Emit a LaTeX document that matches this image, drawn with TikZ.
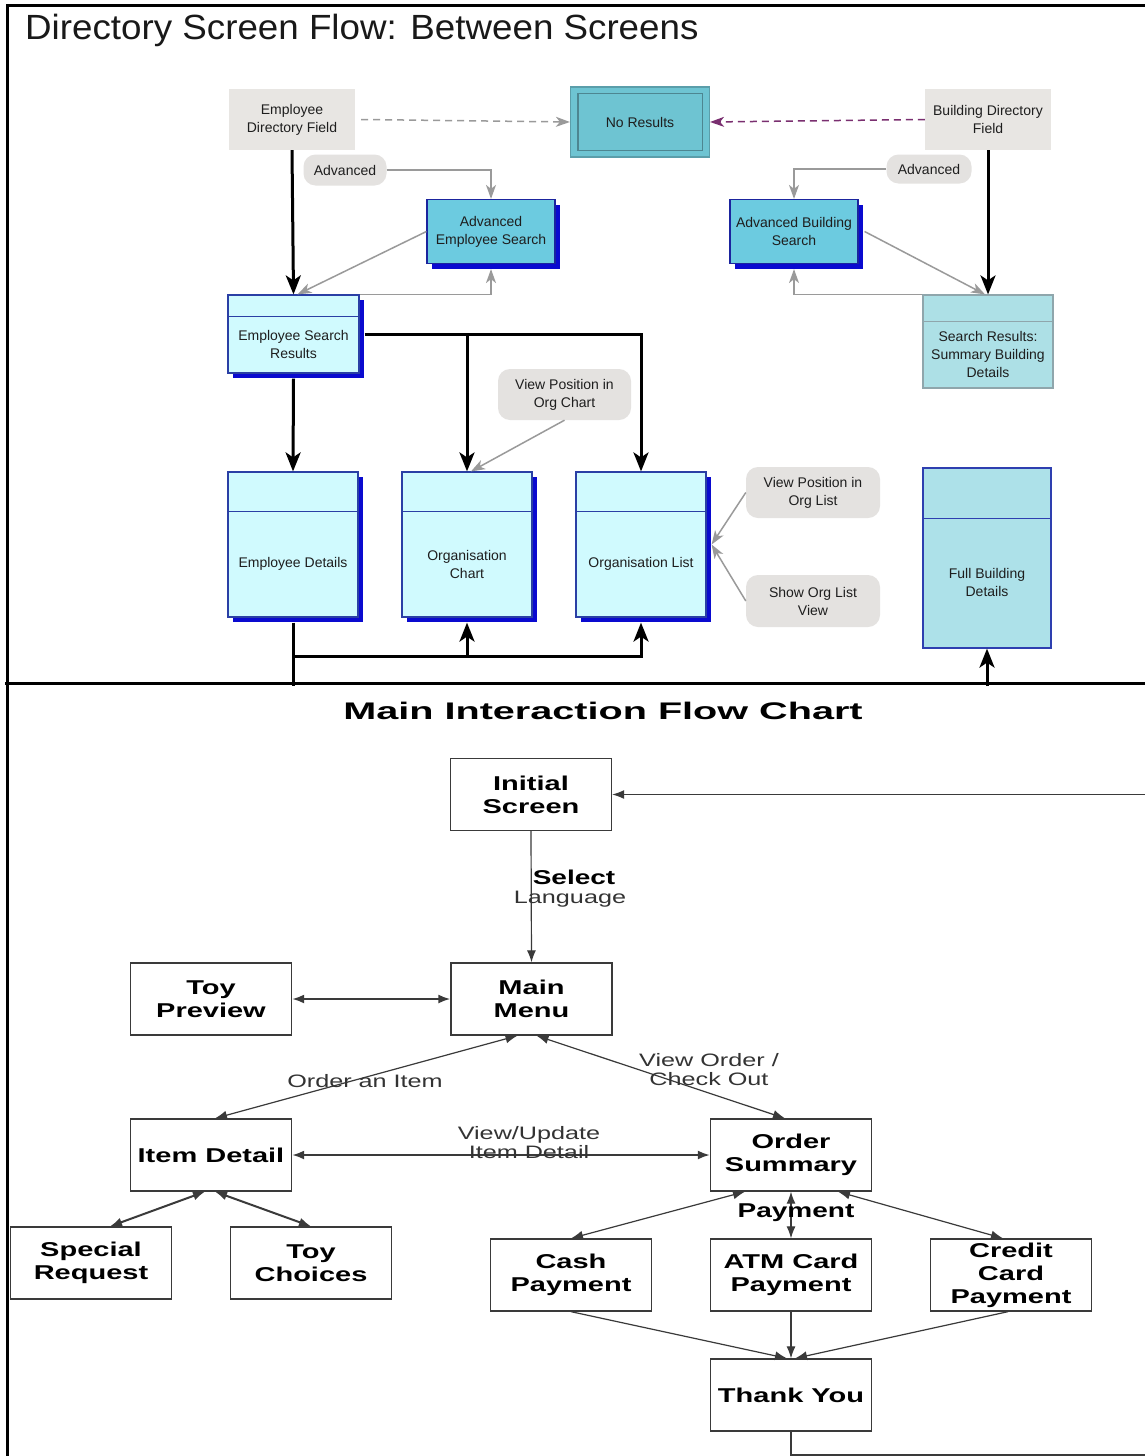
\documentclass[tikz,border=0pt]{standalone}
\usepackage{fontspec}
\setmainfont{Liberation Sans}
\newfontfamily\titlefont[FakeStretch=1.05]{Liberation Sans}
\newfontfamily\boxfont[FakeStretch=1.45]{Liberation Sans}
\newfontfamily\labfont[FakeStretch=1.4]{Liberation Sans}
\newfontfamily\mainttl[FakeStretch=1.65]{Liberation Sans}
\usetikzlibrary{arrows.meta,shadows,calc}
\definecolor{fieldgray}{HTML}{E8E6E3}
\definecolor{pillgray}{HTML}{E4E2E0}
\definecolor{nrfill}{HTML}{6EC4D2}
\definecolor{nrline}{HTML}{5B9EAA}
\definecolor{aesfill}{HTML}{6CCBE0}
\definecolor{darkblue}{HTML}{1B249E}
\definecolor{shadowblue}{HTML}{0A0ACF}
\definecolor{lightcyan}{HTML}{D0FAFE}
\definecolor{boxblue}{HTML}{2A3FA5}
\definecolor{srsfill}{HTML}{ADE0E6}
\definecolor{srsline}{HTML}{8FA6AC}
\definecolor{fbdfill}{HTML}{ADE1E9}
\definecolor{fbdline}{HTML}{2E3FB0}
\definecolor{connray}{HTML}{9A9A9A}
\definecolor{purpleline}{HTML}{7A2F70}
\definecolor{bline}{HTML}{3A3A3A}
\definecolor{txt}{HTML}{1E1E1E}
\tikzset{
  sz/.style n args={2}{minimum width=#1pt, minimum height=#2pt},
  toptext/.style={inner sep=0pt, align=center, text=txt, font=\fontsize{14}{18}\selectfont},
  field/.style={toptext, fill=fieldgray, draw=none},
  pill/.style={toptext, fill=pillgray, draw=none, rounded corners=12pt},
  nrbox/.style={toptext, fill=nrfill, draw=nrline, line width=1.2pt},
  darkbox/.style={toptext, fill=aesfill, draw=darkblue, line width=1.2pt,
     general shadow={fill=shadowblue, shadow xshift=5pt, shadow yshift=-5pt}},
  lightbox/.style={toptext, fill=lightcyan, draw=boxblue, line width=1.2pt,
     general shadow={fill=shadowblue, shadow xshift=5pt, shadow yshift=-5pt}},
  srsbox/.style={toptext, fill=srsfill, draw=srsline, line width=1.2pt},
  fbdbox/.style={toptext, fill=fbdfill, draw=fbdline, line width=1.2pt},
  garrow/.style={draw=connray, line width=1.5pt, -{Stealth[length=14pt,width=10pt,inset=4pt]}},
  gdash/.style={garrow, dash pattern=on 7pt off 5pt},
  pdash/.style={draw=purpleline, line width=1.5pt, dash pattern=on 7pt off 5pt, -{Stealth[length=14pt,width=10pt,inset=4pt]}},
  bpath/.style={draw=black, line width=3pt},
  barrow/.style={bpath, -{Stealth[length=19pt,width=15pt,inset=5pt]}},
  bbox/.style={draw=bline, line width=1.3pt, fill=white, sz={161}{72}, inner sep=0pt, align=center,
     font=\boxfont\bfseries\fontsize{20}{23}\selectfont},
  lab/.style={inner sep=0pt, align=center, text=black!80, font=\labfont\fontsize{18}{19}\selectfont},
  conn/.style={draw=bline, line width=1.2pt},
  conntwo/.style={draw=bline, line width=2pt},
  tp/.style={-{Latex[length=12pt,width=9pt]}},
  tpb/.style={{Latex[length=12pt,width=9pt]}-{Latex[length=12pt,width=9pt]}},
}
\begin{document}
\begin{tikzpicture}[x=1pt,y=-1pt]
\useasboundingbox[fill=white] (0,0) rectangle (1145,1456);
% frame
\draw[line width=3pt] (7,1462) -- (7,5) -- (1150,5);
\draw[line width=3pt] (5,683.5) -- (1150,683.5);
% ---------- top diagram ----------
\node[anchor=base west, inner sep=0pt, text=black!90, font=\titlefont\fontsize{35}{35}\selectfont] (title1) at (25,39) {Directory Screen Flow: Between Screens};

\node[field, sz={126}{61}] (edf) at (292,119.5) {Employee\\Directory Field};
\node[nrbox, sz={139}{70}] (nr) at (640,122) {No Results};
\draw[nrline!85!black, line width=1.2pt] ([shift={(8pt,-7pt)}]nr.north west) rectangle ([shift={(-8pt,7pt)}]nr.south east);
\node[field, sz={126}{61}] (bdf) at (988,119.5) {Building Directory\\Field};
\node[pill, sz={83}{31}] (advl) at (345,170) {Advanced};
\node[pill, sz={85}{29}] (advr) at (929,169) {Advanced};
\node[darkbox, sz={128}{64}] (aes) at (491,231.5) {Advanced\\Employee Search};
\node[darkbox, sz={128}{64}] (abs) at (794,231.5) {Advanced Building\\Search};

\node[lightbox, sz={131}{78}] (esr) at (293.5,334) {};
\draw[boxblue, line width=1.2pt] ([yshift=-22pt]esr.north west) -- ([yshift=-22pt]esr.north east);
\node[toptext] (esrt) at (293.5,344) {Employee Search\\Results};

\node[srsbox, sz={130}{93}] (srs) at (988,341.5) {};
\draw[srsline, line width=1.2pt] ([yshift=-27pt]srs.north west) -- ([yshift=-27pt]srs.north east);
\node[toptext] (srst) at (988,354) {Search Results:\\Summary Building\\Details};

\node[lightbox, sz={130}{145}] (ed) at (293,544.5) {};
\draw[boxblue, line width=1.2pt] ([yshift=-40pt]ed.north west) -- ([yshift=-40pt]ed.north east);
\node[toptext] (edt) at (293,564) {Employee Details};

\node[lightbox, sz={130}{145}] (oc) at (467,544.5) {};
\draw[boxblue, line width=1.2pt] ([yshift=-40pt]oc.north west) -- ([yshift=-40pt]oc.north east);
\node[toptext] (oct) at (467,564) {Organisation\\Chart};

\node[lightbox, sz={130}{145}] (ol) at (641,544.5) {};
\draw[boxblue, line width=1.2pt] ([yshift=-40pt]ol.north west) -- ([yshift=-40pt]ol.north east);
\node[toptext] (olt) at (641,564) {Organisation List};

\node[fbdbox, sz={128}{180}] (fbd) at (987,558) {};
\draw[fbdline, line width=1.2pt] ([yshift=-51pt]fbd.north west) -- ([yshift=-51pt]fbd.north east);
\node[toptext] (fbdt) at (987,582) {Full Building\\Details};

\node[pill, sz={133}{51}] (vpoc) at (564.5,394.5) {View Position in\\Org Chart};
\node[pill, sz={134}{51}] (vpol) at (813,492.5) {View Position in\\Org List};
\node[pill, sz={134}{52}] (solv) at (813,601) {Show Org List\\View};

% top connectors
\draw[gdash] ([xshift=6pt]edf.east) -- (nr.west);
\draw[pdash] (bdf.west) -- (nr.east);
\draw[garrow] (advl.east) -| (aes.north);
\draw[garrow] (aes.west) -- ([xshift=4pt]esr.north);
\draw[garrow] (esr.north east) -| ([yshift=-5pt]aes.south);
\draw[garrow] (advr.west) -| (abs.north);
\draw[garrow] ([xshift=6pt]abs.east) -- ([xshift=-3pt]srs.north);
\draw[garrow] (srs.north west) -| ([yshift=-5pt]abs.south);
\draw[barrow] (edf.south) -- (esr.north);
\draw[barrow] (bdf.south) -- (srs.north);
\draw[barrow] ([yshift=-5pt]esr.south) -- (ed.north);
\draw[barrow] ([xshift=5pt]esr.east) -| (ol.north);
\draw[barrow] (esr.east -| oc.north) -- (oc.north);
\draw[garrow] (vpoc.south) -- ([xshift=4pt]oc.north);
\draw[garrow] (vpol.west) -- ([xshift=5pt]ol.east);
\draw[garrow] (solv.west) -- ([xshift=5pt]ol.east);
\coordinate (edout) at (293,686);
\coordinate (busj) at (293,656);
\draw[bpath] ([yshift=-5pt]ed.south) -- (edout);
\draw[barrow] (busj) -| ([yshift=-5pt]oc.south);
\draw[barrow] (busj) -| ([yshift=-5pt]ol.south);
\coordinate (fbin) at (987,686);
\draw[barrow] (fbin) -- (fbd.south);

% ---------- bottom diagram ----------
\node[anchor=base, inner sep=0pt, text=black, font=\mainttl\bfseries\fontsize{24}{24}\selectfont] (title2) at (603,719) {Main Interaction Flow Chart};

\node[bbox] (is) at (531,794.5) {Initial\\Screen};
\node[bbox] (mm) at (531.5,999) {Main\\Menu};
\node[bbox] (tpv) at (211,999) {Toy\\Preview};
\node[bbox] (id) at (211,1155) {Item Detail};
\node[bbox] (os) at (791,1155) {Order\\Summary};
\node[bbox] (sr) at (91,1263) {Special\\Request};
\node[bbox] (tc) at (311,1263) {Toy\\Choices};
\node[bbox] (cash) at (571,1275) {Cash\\Payment};
\node[bbox] (atm) at (791,1275) {ATM Card\\Payment};
\node[bbox] (cc) at (1011,1275) {Credit\\Card\\Payment};
\node[bbox] (ty) at (791,1395) {Thank You};

\draw[conn,tp] (is.south) -- (mm.north);
\draw[conntwo,tpb] (tpv.east) -- (mm.west);
\draw[conn,tpb] ([xshift=-14pt]mm.south) -- ([xshift=4pt]id.north);
\draw[conn,tpb] ([xshift=5pt]mm.south) -- ([xshift=-6pt]os.north);
\draw[conntwo,tpb] (id.east) -- (os.west);
\draw[conntwo,tpb] ([xshift=-6pt]id.south) -- ([xshift=19pt]sr.north);
\draw[conntwo,tpb] ([xshift=4pt]id.south) -- (tc.north);
\draw[conn,tpb] ([xshift=-46pt]os.south) -- (cash.north);
\draw[conn,tpb] (os.south) -- (atm.north);
\draw[conn,tpb] ([xshift=47pt]os.south) -- ([xshift=-8pt]cc.north);
\draw[conn,tp] (cash.south) -- ([xshift=-4pt]ty.north);
\draw[conn,tp] (atm.south) -- (ty.north);
\draw[conn,tp] ([xshift=-3pt]cc.south) -- ([xshift=4pt]ty.north);
\draw[conn,tp] (ty.south) |- (1180,1455) |- (is.east);

\node[lab] (lsel) at (570,889) {\hspace*{8pt}{\fontsize{20}{19}\selectfont\bfseries\color{black}Select}\\Language};
\node[lab] (lord) at (365,1081) {Order an Item};
\node[lab] (lvo) at (709,1070) {View Order /\\Check Out};
\node[lab] (lvu) at (529,1143) {View/Update\\Item Detail};
\node[lab, text=black, font=\labfont\bfseries\fontsize{20}{20}\selectfont] (lpay) at (796,1213) {Payment};
\end{tikzpicture}
\end{document}
